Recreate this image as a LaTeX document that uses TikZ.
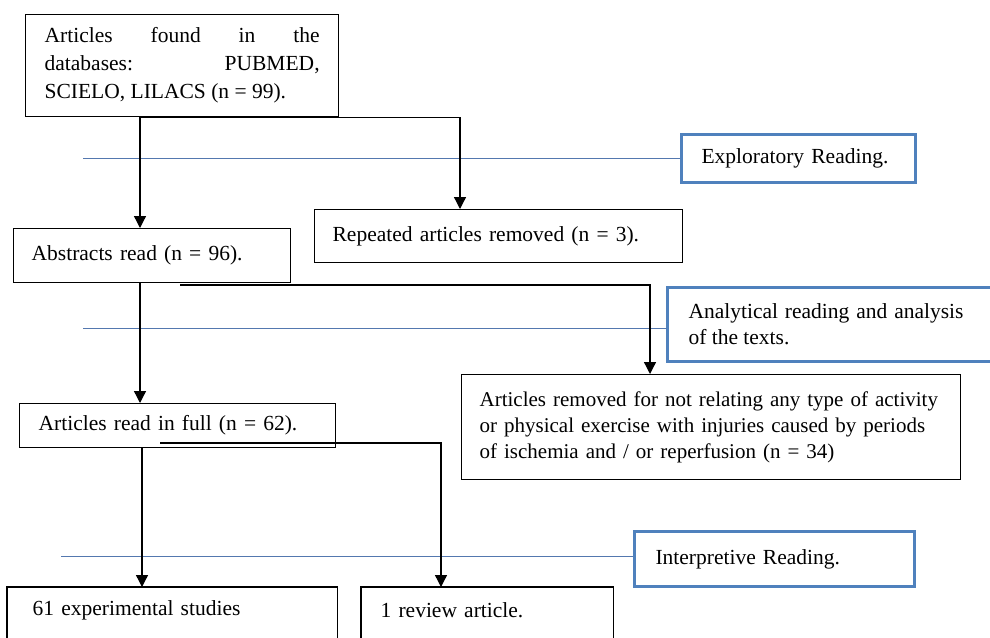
\documentclass[tikz,border=0pt]{standalone}
\usepackage{fontspec}
\setmainfont{Liberation Serif}
\usetikzlibrary{arrows.meta}
\definecolor{wordblue}{RGB}{79,129,189}
\definecolor{thinblue}{RGB}{84,120,175}
\begin{document}
\begin{tikzpicture}[x=1pt,y=-1pt,
  box/.style={draw=black, line width=1.3pt, anchor=north west, align=left, inner xsep=18pt, inner ysep=0pt, font=\fontsize{21.5}{26}\selectfont},
  bbox/.style={draw=wordblue, line width=3pt, anchor=north west, align=left, inner xsep=20pt, inner ysep=0pt, font=\fontsize{21.5}{26}\selectfont},
  arr/.style={line width=1.3pt, -{Triangle[width=12pt,length=12pt]}},
  bline/.style={draw=thinblue, line width=1pt}]
\useasboundingbox (0,0) rectangle (990,637);
\clip (0,0) rectangle (990,637);
% boxes
\node[box, inner xsep=19pt, text width=275pt, minimum height=102pt, align=justify, font=\fontsize{21.5}{28}\selectfont] (top) at (25,14)
  {Articles found in the\linebreak databases: PUBMED,\linebreak SCIELO, LILACS (n = 99).\par\vspace*{-6pt}};
\node[box, text width=241pt, minimum height=54pt] (abs) at (13,228) {Abstracts read (n = 96).};
\node[box, text width=332pt, minimum height=53pt] (rep) at (314,209) {Repeated articles removed (n = 3).};
\node[bbox, text width=194pt, minimum height=48pt] (expl) at (680,133) {Exploratory Reading.\par\vspace*{-8pt}};
\node[bbox, draw=none, text width=275pt, minimum height=71pt, align=justify] (ana) at (667,287)
  {Analytical reading and analysis\linebreak of the texts.};
\draw[draw=wordblue, line width=3pt] (ana.north west) rectangle ([xshift=40pt]ana.south east);
\node[box, text width=463pt, minimum height=105pt, font=\fontsize{21}{26}\selectfont] (rem) at (461,374)
  {\mbox{Articles removed for not relating any type of activity}\\\mbox{or physical exercise with injuries caused by periods}\\\mbox{of ischemia and / or reperfusion (n = 34)}};
\node[box, inner xsep=19pt, text width=278pt, minimum height=44pt] (full) at (19,403) {Articles read in full (n = 62).\par\vspace*{-5pt}};
\node[bbox, inner xsep=21pt, text width=238pt, minimum height=55pt] (interp) at (633,530) {Interpretive Reading.};
\node[box, draw=none, inner xsep=25pt, text width=279pt, minimum height=46pt] (exp) at (7,587) {61 experimental studies};
\node[box, draw=none, inner xsep=19pt, text width=213pt, minimum height=46pt] (rev) at (361,587) {1 review article.};
\draw[line width=1.3pt] ([yshift=-40pt]exp.south west) -- (exp.north west) -- (exp.north east) -- ([yshift=-40pt]exp.south east);
\draw[line width=1.3pt] ([yshift=-40pt]rev.south west) -- (rev.north west) -- (rev.north east) -- ([yshift=-40pt]rev.south east);
% blue reading lines
\coordinate (b1) at (83,158);
\coordinate (b2) at (83,328);
\coordinate (b3) at (61,556);
\draw[bline] (b1) -- (b1 -| expl.west);
\draw[bline] (b2) -- (b2 -| ana.west);
\draw[bline] (b3) -- (b3 -| interp.west);
% connectors
\coordinate (c1) at (140,0);
\coordinate (c2) at (460,0);
\coordinate (c3) at (180,285);
\coordinate (c4) at (650,0);
\coordinate (c5) at (142,0);
\coordinate (c6) at (160,443);
\coordinate (c7) at (441,0);
\draw[arr] (top.south -| c1) -- (abs.north -| c1);
\draw[arr] (top.south -| c1) -| (c2 |- rep.north);
\draw[arr] (abs.south -| c1) -- (full.north -| c1);
\draw[arr] (c3) -| (c4 |- rem.north);
\draw[arr] (full.south -| c5) -- (exp.north -| c5);
\draw[arr] (c6) -| (c7 |- rev.north);
\end{tikzpicture}
\end{document}
